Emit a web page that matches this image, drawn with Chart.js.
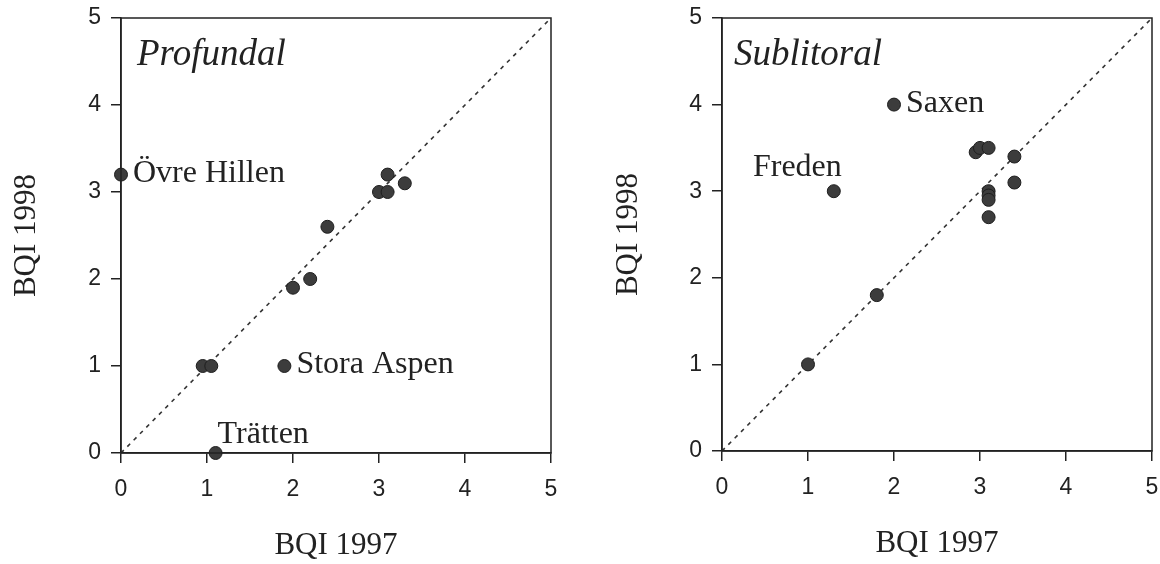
<!DOCTYPE html>
<html lang="sv">
<head>
<meta charset="UTF-8">
<title>BQI 1997 / 1998</title>
<script src="https://cdn.jsdelivr.net/npm/chart.js"></script>
<style>
  body { margin: 0; background: #fff; }
  .painel { position: absolute; top: 0; width: 580px; height: 564px; }
</style>
</head>
<body>
<div class="painel" style="left:0"><canvas id="grafico1"></canvas></div>
<div class="painel" style="left:580px"><canvas id="grafico2"></canvas></div>

<script>
// Profundal
const profX = [0, 3.1, 3.3, 3.0, 3.1, 2.4, 2.0, 2.2, 0.95, 1.05, 1.9, 1.1];
const profY = [3.2, 3.2, 3.1, 3.0, 3.0, 2.6, 1.9, 2.0, 1.0, 1.0, 1.0, 0];
const profNomes = ['Övre Hillen', '', '', '', '', '', '', '', '', '', 'Stora Aspen', 'Trätten'];

// Sublitoral
const subX = [2.0, 1.3, 1.0, 1.8, 2.95, 3.0, 3.1, 3.4, 3.4, 3.1, 3.1, 3.1, 3.1];
const subY = [4.0, 3.0, 1.0, 1.8, 3.45, 3.5, 3.5, 3.4, 3.1, 3.0, 2.95, 2.9, 2.7];
const subNomes = ['Saxen', 'Freden', '', '', '', '', '', '', '', '', '', '', ''];

const eixoTicks = [0, 1, 2, 3, 4, 5];
const diagonal = [0, 5];

const cor = '#222';

// moldura, titulo do painel e nomes dos lagos
const moldura = {
    id: 'moldura',
    afterDatasetsDraw(chart, args, opts) {
        const ctx = chart.ctx;
        const a = chart.chartArea;
        ctx.save();
        ctx.strokeStyle = cor;
        ctx.lineWidth = 1.5;
        ctx.strokeRect(a.left, a.top, a.right - a.left, a.bottom - a.top);

        ctx.fillStyle = cor;
        ctx.font = 'italic 37px "Liberation Serif"';
        ctx.textAlign = 'left';
        ctx.textBaseline = 'alphabetic';
        ctx.fillText(opts.titulo, a.left + opts.tituloDx, a.top + 47);

        const meta = chart.getDatasetMeta(0);
        ctx.font = '32px "Liberation Serif"';
        opts.nomes.forEach(function (nome, i) {
            if (!nome) return;
            const p = meta.data[i];
            const lado = opts.lados[nome];
            if (lado == 'direita') {
                ctx.textAlign = 'left';
                ctx.fillText(nome, p.x + 12, p.y + 7);
            } else if (lado == 'acima') {
                ctx.textAlign = 'left';
                ctx.fillText(nome, p.x + 2, p.y - 10);
            } else {
                ctx.textAlign = 'right';
                ctx.fillText(nome, p.x + 8, p.y - 15);
            }
        });
        ctx.restore();
    }
};

function montarGrafico(idCanvas, xs, ys, nomes, titulo, tituloDx, larguraY, pad) {
    const pontos = xs.map(function (x, i) { return { x: x, y: ys[i] }; });
    const linha = diagonal.map(function (v) { return { x: v, y: v }; });

    const eixoComum = {
        type: 'linear',
        min: 0,
        max: 5,
        afterBuildTicks: function (s) { s.ticks = eixoTicks.map(function (v) { return { value: v }; }); },
        grid: { drawOnChartArea: false, tickLength: 10, color: cor, lineWidth: 1.5 },
        border: { color: cor, width: 1.5 },
        ticks: { color: cor, font: { family: 'Liberation Sans', size: 23 }, padding: 10 }
    };

    return new Chart(document.getElementById(idCanvas), {
        type: 'scatter',
        data: {
            datasets: [{
                data: pontos,
                pointRadius: 6.5,
                pointHoverRadius: 6.5,
                backgroundColor: '#3c3c3c',
                borderColor: '#1e1e1e',
                borderWidth: 1,
                clip: false
            }, {
                type: 'line',
                data: linha,
                borderColor: '#333',
                borderWidth: 1.6,
                borderDash: [4, 5],
                pointRadius: 0,
                fill: false
            }]
        },
        options: {
            responsive: true,
            maintainAspectRatio: false,
            animation: false,
            layout: { padding: pad },
            plugins: {
                legend: { display: false },
                tooltip: { enabled: false },
                moldura: { titulo: titulo, tituloDx: tituloDx, nomes: nomes, lados: {
                    'Övre Hillen': 'direita', 'Stora Aspen': 'direita', 'Trätten': 'acima',
                    'Saxen': 'direita', 'Freden': 'acimaEsq'
                } }
            },
            scales: {
                x: Object.assign({}, eixoComum, {
                    ticks: { color: cor, font: { family: 'Liberation Sans', size: 23 }, padding: 13 },
                    title: { display: true, text: 'BQI 1997', color: cor, font: { family: 'Liberation Serif', size: 31 }, padding: { top: 0, bottom: 0 } },
                    afterFit: function (s) { s.height = 111; s.paddingLeft = 0; s.paddingRight = 0; }
                }),
                y: Object.assign({}, eixoComum, {
                    title: { display: true, text: 'BQI 1998', color: cor, font: { family: 'Liberation Serif', size: 31 }, padding: { top: 0, bottom: 0 } },
                    afterFit: function (s) { s.width = larguraY; s.paddingTop = 0; s.paddingBottom = 0; }
                })
            }
        },
        plugins: [moldura]
    });
}

montarGrafico('grafico1', profX, profY, profNomes, 'Profundal', 16, 113, { left: 8, right: 29, top: 18, bottom: 0 });
montarGrafico('grafico2', subX, subY, subNomes, 'Sublitoral', 12, 112, { left: 30, right: 8, top: 18, bottom: 2 });
</script>
</body>
</html>
